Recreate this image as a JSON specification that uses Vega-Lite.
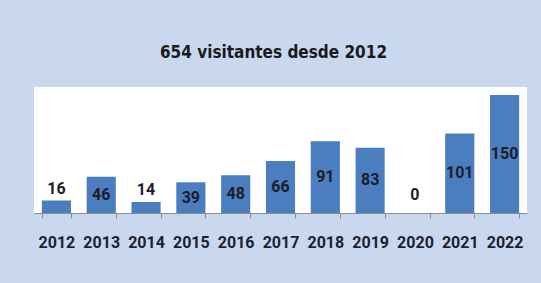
{
  "$schema": "https://vega.github.io/schema/vega-lite/v6.json",
  "width": 493,
  "height": 126,
  "padding": {"left": 34, "right": 14, "top": 87, "bottom": 70},
  "autosize": {"type": "none"},
  "background": "#c9d7ef",
  "view": {"fill": "white", "stroke": null},
  "title": {
    "text": "654 visitantes desde 2012",
    "font": "DejaVu Sans Condensed",
    "fontSize": 17,
    "fontWeight": "bold",
    "color": "#1b1b1b",
    "anchor": "middle",
    "offset": 25,
    "dx": -7
  },
  "data": {
    "values": [
      {"year": "2012", "v": 16},
      {"year": "2013", "v": 46},
      {"year": "2014", "v": 14},
      {"year": "2015", "v": 39},
      {"year": "2016", "v": 48},
      {"year": "2017", "v": 66},
      {"year": "2018", "v": 91},
      {"year": "2019", "v": 83},
      {"year": "2020", "v": 0},
      {"year": "2021", "v": 101},
      {"year": "2022", "v": 150}
    ]
  },
  "encoding": {
    "x": {
      "field": "year",
      "type": "ordinal",
      "scale": {"paddingInner": 0.35, "paddingOuter": 0.175},
      "axis": {
        "title": null,
        "labelAngle": 0,
        "labelFont": "Roboto",
        "labelFontSize": 16,
        "labelFontWeight": "bold",
        "labelColor": "#1a1f33",
        "labelPadding": 16,
        "tickBand": "extent",
        "tickSize": 5,
        "tickColor": "#8c8c8c",
        "domainColor": "#8c8c8c",
        "grid": false
      }
    }
  },
  "layer": [
    {
      "mark": {"type": "bar", "color": "#4a7ebf"},
      "encoding": {
        "y": {"field": "v", "type": "quantitative", "scale": {"domain": [0, 160]}, "axis": null}
      }
    },
    {
      "transform": [{"filter": "datum.v >= 30"}],
      "mark": {
        "type": "text",
        "font": "Roboto",
        "fontSize": 16,
        "fontWeight": "bold",
        "color": "#1c1c2c",
        "baseline": "middle"
      },
      "encoding": {
        "y": {"field": "v", "type": "quantitative", "scale": {"domain": [0, 320]}, "axis": null},
        "text": {"field": "v", "type": "quantitative"}
      }
    },
    {
      "transform": [{"filter": "datum.v < 30"}],
      "mark": {
        "type": "text",
        "font": "Roboto",
        "fontSize": 16,
        "fontWeight": "bold",
        "color": "#1c1c2c",
        "baseline": "alphabetic"
      },
      "encoding": {
        "y": {"field": "v", "type": "quantitative", "scale": {"domain": [-35, 301]}, "axis": null},
        "text": {"field": "v", "type": "quantitative"}
      }
    }
  ],
  "resolve": {"scale": {"y": "independent"}}
}
